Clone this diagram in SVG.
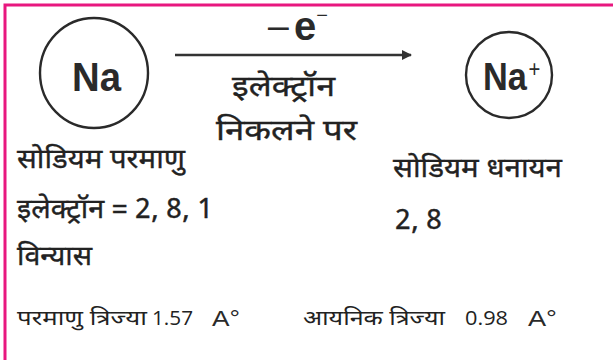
<svg xmlns="http://www.w3.org/2000/svg" width="613" height="360" viewBox="0 0 613 360">
<style>
.hi{font-family:"Noto Sans Devanagari","Noto Sans",sans-serif;fill:#222;stroke:#222;stroke-width:0.35}
.hs{font-family:"Noto Sans Devanagari","Noto Sans",sans-serif;fill:#222}
.lat{font-family:"Liberation Sans",Arial,sans-serif;fill:#2a2a2a}
.num{font-family:"Open Sans","Noto Sans",sans-serif;fill:#222}
.circ{fill:none;stroke:#2a2a2a;stroke-width:2.4}
</style>
<defs>
<marker id="ah" markerWidth="12" markerHeight="12" refX="9" refY="6" orient="auto" markerUnits="userSpaceOnUse">
<path d="M0,1 L10,6 L0,11 Z" fill="#333"/>
</marker>
</defs>
<rect x="0" y="0" width="613" height="360" fill="#fff"/>
<g id="border" fill="none" stroke="#e8177f" stroke-width="3">
<path d="M5,360 V5 H613"/>
</g>
<g id="na">
<ellipse class="circ" cx="94" cy="73" rx="54" ry="55"/>
<text class="lat" x="72" y="91" font-size="40" font-weight="bold" textLength="49" lengthAdjust="spacingAndGlyphs">Na</text>
</g>
<g id="naplus">
<circle class="circ" cx="509" cy="75" r="43"/>
<text class="lat" transform="translate(483,90) scale(0.88,1)" font-size="39" font-weight="bold">Na<tspan font-size="23" font-weight="normal" dx="2" dy="-13">+</tspan></text>
</g>
<g id="connectors">
<line x1="175" y1="55" x2="411" y2="55" stroke="#333" stroke-width="2.5" marker-end="url(#ah)"/>
</g>
<g id="arrow-labels">
<text class="lat" x="266" y="40" font-size="34"><tspan textLength="25" lengthAdjust="spacingAndGlyphs">−</tspan><tspan font-weight="bold" font-size="40" dx="3">e</tspan><tspan font-size="20" dy="-18">−</tspan></text>
<text class="hi" x="232" y="96" font-size="29" textLength="103" lengthAdjust="spacingAndGlyphs">इलेक्ट्रॉन</text>
<text class="hi" x="216" y="140" font-size="29" textLength="141" lengthAdjust="spacingAndGlyphs">निकलने पर</text>
</g>
<g id="left-info">
<text class="hi" x="17" y="168" font-size="27" textLength="168" lengthAdjust="spacingAndGlyphs">सोडियम परमाणु</text>
<text class="hi" x="17" y="218" font-size="27" textLength="196" lengthAdjust="spacingAndGlyphs">इलेक्ट्रॉन = 2, 8, 1</text>
<text class="hi" x="17" y="265" font-size="27" textLength="75" lengthAdjust="spacingAndGlyphs">विन्यास</text>
<text class="hs" x="17" y="325" font-size="21" textLength="130" lengthAdjust="spacingAndGlyphs">परमाणु त्रिज्या</text>
<text class="num" x="152" y="325" font-size="20" textLength="41" lengthAdjust="spacingAndGlyphs">1.57</text>
<text class="lat" x="212" y="326" font-size="22" textLength="28" lengthAdjust="spacingAndGlyphs">A°</text>
</g>
<g id="right-info">
<text class="hi" x="393" y="177" font-size="27" textLength="169" lengthAdjust="spacingAndGlyphs">सोडियम धनायन</text>
<text class="hi" x="395" y="229" font-size="27" textLength="47" lengthAdjust="spacingAndGlyphs">2, 8</text>
<text class="hs" x="303" y="325" font-size="21" textLength="142" lengthAdjust="spacingAndGlyphs">आयनिक त्रिज्या</text>
<text class="num" x="465" y="325" font-size="20" textLength="43" lengthAdjust="spacingAndGlyphs">0.98</text>
<text class="lat" x="528" y="326" font-size="22" textLength="29" lengthAdjust="spacingAndGlyphs">A°</text>
</g>
</svg>
